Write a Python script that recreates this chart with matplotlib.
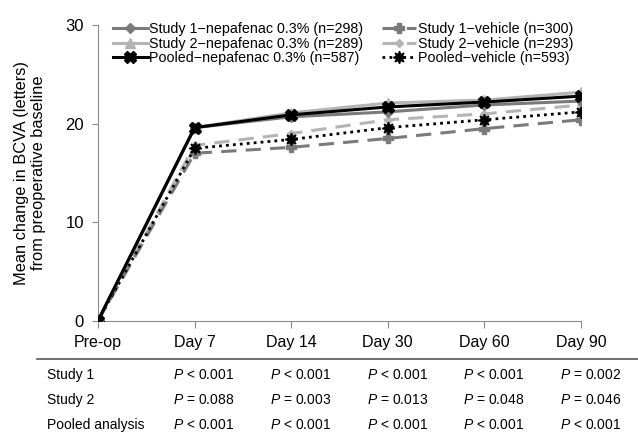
import matplotlib
matplotlib.use("Agg")
from matplotlib import pyplot as plt
from matplotlib import transforms
from matplotlib.lines import Line2D

plt.rcParams['font.family'] = ['Liberation Sans', 'DejaVu Sans']
plt.rcParams['mathtext.fontset'] = 'custom'
plt.rcParams['mathtext.rm'] = 'Liberation Sans'
plt.rcParams['mathtext.it'] = 'Liberation Sans:italic'

# timepoints
visits = ['Pre-op', 'Day 7', 'Day 14', 'Day 30', 'Day 60', 'Day 90']

# mean change in BCVA (letters)
study1_nep = [0, 19.6, 20.7, 21.2, 21.9, 22.3]
study2_nep = [0, 19.6, 21.1, 22.1, 22.4, 23.2]
pooled_nep = [0, 19.6, 20.9, 21.7, 22.2, 22.8]
study1_veh = [0, 17.0, 17.6, 18.5, 19.5, 20.4]
study2_veh = [0, 17.8, 19.0, 20.4, 21.0, 21.9]
pooled_veh = [0, 17.5, 18.4, 19.6, 20.4, 21.2]

labels = ['Study 1\u2212nepafenac 0.3% (n=298)',
          'Study 2\u2212nepafenac 0.3% (n=289)',
          'Pooled\u2212nepafenac 0.3% (n=587)',
          'Study 1\u2212vehicle (n=300)',
          'Study 2\u2212vehicle (n=293)',
          'Pooled\u2212vehicle (n=593)']

# p-value table below the chart
row_names = ['Study 1', 'Study 2', 'Pooled analysis']
p_study1 = ['< 0.001', '< 0.001', '< 0.001', '< 0.001', '= 0.002']
p_study2 = ['= 0.088', '= 0.003', '= 0.013', '= 0.048', '= 0.046']
p_pooled = ['< 0.001', '< 0.001', '< 0.001', '< 0.001', '< 0.001']

fig = plt.figure(figsize=(6.38, 4.34), dpi=100)
ax = fig.add_axes([98 / 638, 1 - 320.7 / 434, (581 - 98) / 638, (320.7 - 25.2) / 434])

x = list(range(len(visits)))
dark = '#7a7a7a'
light = '#b4b4b4'

ax.plot(x, study2_veh, color=light, ls=(0, (5, 3)), lw=2.2, marker='D', ms=4, label=labels[4], zorder=2)
ax.plot(x, study1_veh, color=dark, ls=(0, (5, 3)), lw=2.2, marker='P', ms=7, label=labels[3], zorder=2)
ax.plot(x, pooled_veh, color='black', ls=(0, (1, 1.5)), lw=2.0, marker=(8, 1, 0), ms=9, label=labels[5], zorder=3)
ax.plot(x, study2_nep, color=light, lw=2.2, marker='^', ms=7, label=labels[1], zorder=4)
ax.plot(x, study1_nep, color=dark, lw=2.2, marker='D', ms=5, label=labels[0], zorder=4)
ax.plot(x, pooled_nep, color='black', lw=2.2, marker='X', ms=8, label=labels[2], zorder=5)

ax.set_xlim(0, 5)
ax.set_ylim(0, 30)
ax.set_yticks([0, 10, 20, 30])
ax.set_xticks(x)
ax.set_xticklabels(visits)
for s in ['top', 'right']:
    ax.spines[s].set_visible(False)
for s in ['left', 'bottom']:
    ax.spines[s].set_color('#8c8c8c')
ax.tick_params(axis='y', labelsize=12, length=4, color='#8c8c8c', pad=6)
ax.tick_params(axis='x', labelsize=11.5, length=5, color='#8c8c8c', pad=5)
ax.set_ylabel('Mean change in BCVA (letters)\nfrom preoperative baseline', fontsize=11.8,
              labelpad=14, linespacing=1.15)

# legend: column 1 nepafenac, column 2 vehicle
handles, lbls = ax.get_legend_handles_labels()
by_label = dict(zip(lbls, handles))
ax.legend([by_label[l] for l in labels], labels, ncol=2, loc='upper left',
          bbox_to_anchor=(0.005, 1.055), frameon=False, fontsize=10.3,
          handlelength=2.4, handletextpad=0.1, labelspacing=0.05, columnspacing=1.3)

# table below
tr = transforms.blended_transform_factory(ax.transData, fig.transFigure)
fig.add_artist(Line2D([37 / 638, 1], [1 - 359 / 434, 1 - 359 / 434], color='#555555', lw=1.2))
rows_y = [375, 400, 425]
rows = [p_study1, p_study2, p_pooled]
for name, vals, py in zip(row_names, rows, rows_y):
    fy = 1 - py / 434
    fig.text(47 / 638, fy, name, fontsize=10, va='center', ha='left')
    for i, v in enumerate(vals):
        ax.text(i + 1 - 0.22, fy, r'$\mathit{P}$' + ' ' + v, transform=tr,
                fontsize=10, va='center', ha='left')

fig.savefig('out.png', dpi=100)
